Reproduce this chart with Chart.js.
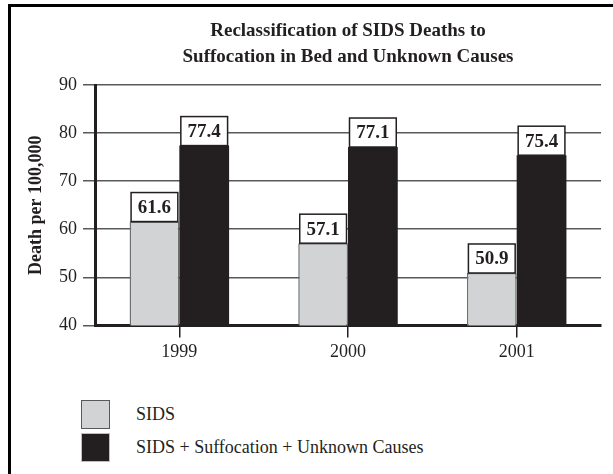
<!DOCTYPE html>
<html>
<head>
<meta charset="utf-8">
<script src="https://cdn.jsdelivr.net/npm/chart.js@4/dist/chart.umd.min.js"></script>
<style>
  html, body { margin: 0; padding: 0; background: #fff; }
  #page { position: relative; width: 613px; height: 474px; overflow: hidden; font-family: "Liberation Serif", "Times New Roman", serif; color: #231f20; }
  #frame { position: absolute; left: 8px; top: 4px; width: 640px; height: 500px; border-top: 3px solid #000; border-left: 3px solid #000; box-sizing: border-box; }
  #wrap { position: absolute; left: 0; top: 0; width: 613px; height: 367px; }
  #legend { position: absolute; left: 81px; top: 398px; }
  .item { display: flex; align-items: center; height: 33px; font-size: 18px; }
  .swatch { width: 29px; height: 29px; box-sizing: border-box; margin-right: 26px; }
</style>
</head>
<body>
<div id="page">
  <div id="frame"></div>
  <div id="wrap"><canvas id="c"></canvas></div>
  <div id="legend"></div>
</div>
<script>
const categories = ["1999", "2000", "2001"];
const sidsValues = [61.6, 57.1, 50.9];
const combinedValues = [77.4, 77.1, 75.4];
const seriesNames = ["SIDS", "SIDS + Suffocation + Unknown Causes"];
const titleLines = ["Reclassification of SIDS Deaths to", "Suffocation in Bed and Unknown Causes"];
const yAxisTitle = "Death per 100,000";

const GRAY = "#d1d3d4";
const DARK = "#231f20";
const SERIF = "'Liberation Serif', 'Times New Roman', serif";

const labelBoxes = {
  id: "labelBoxes",
  afterDatasetsDraw(chart) {
    const ctx = chart.ctx;
    chart.data.datasets.forEach((ds, di) => {
      const meta = chart.getDatasetMeta(di);
      meta.data.forEach((bar, i) => {
        const w = bar.width - 3;
        const h = 29;
        const x0 = bar.x - w / 2;
        const y0 = bar.y - h;
        ctx.save();
        ctx.fillStyle = "#fff";
        ctx.fillRect(x0, y0, w, h);
        ctx.strokeStyle = DARK;
        ctx.lineWidth = 1.5;
        ctx.strokeRect(x0, y0, w, h);
        ctx.fillStyle = DARK;
        ctx.font = "bold 19px " + SERIF;
        ctx.textAlign = "center";
        ctx.textBaseline = "middle";
        ctx.fillText(ds.data[i].toFixed(1), bar.x, y0 + h / 2 + 1);
        ctx.restore();
      });
    });
  }
};

const chart = new Chart(document.getElementById("c"), {
  type: "bar",
  data: {
    labels: categories,
    datasets: [
      { label: seriesNames[0], data: sidsValues, backgroundColor: GRAY, borderColor: "#6d6e70", borderWidth: 1.5, borderSkipped: "bottom" },
      { label: seriesNames[1], data: combinedValues, backgroundColor: DARK, borderColor: DARK, borderWidth: 0 }
    ]
  },
  options: {
    responsive: true,
    maintainAspectRatio: false,
    animation: false,
    layout: { padding: { left: 0, right: 12, top: 0, bottom: 0 } },
    datasets: { bar: { categoryPercentage: 0.59, barPercentage: 1.0 } },
    plugins: {
      legend: { display: false },
      tooltip: { enabled: false },
      title: {
        display: true,
        fullSize: false,
        text: titleLines,
        color: DARK,
        font: { family: SERIF, size: 19, weight: "bold", lineHeight: "26px" },
        padding: { top: 18, bottom: 15 }
      }
    },
    scales: {
      x: {
        offset: true,
        grid: { display: true, drawOnChartArea: false, offset: false, tickLength: 12, color: DARK, lineWidth: 1.5 },
        border: { display: true, color: DARK, width: 3 },
        ticks: { color: DARK, font: { family: SERIF, size: 18 }, padding: 4 }
      },
      y: {
        min: 40,
        max: 90,
        ticks: { stepSize: 10, color: DARK, font: { family: SERIF, size: 18 }, padding: 6 },
        grid: { color: "#58595b", lineWidth: 1.5, tickLength: 12 },
        border: { display: true, color: DARK, width: 3 },
        title: { display: true, text: yAxisTitle, color: DARK, font: { family: SERIF, size: 18, weight: "bold" }, padding: { top: 26, bottom: 0 } },
        afterFit(scale) { scale.width = 95; }
      }
    }
  },
  plugins: [labelBoxes]
});

const legend = document.getElementById("legend");
chart.data.datasets.forEach(ds => {
  const item = document.createElement("div");
  item.className = "item";
  const sw = document.createElement("div");
  sw.className = "swatch";
  sw.style.background = ds.backgroundColor;
  sw.style.border = "1.5px solid " + (ds.borderWidth ? "#58595b" : "#bcbec0");
  const tx = document.createElement("span");
  tx.textContent = ds.label;
  item.appendChild(sw);
  item.appendChild(tx);
  legend.appendChild(item);
});
</script>
</body>
</html>
